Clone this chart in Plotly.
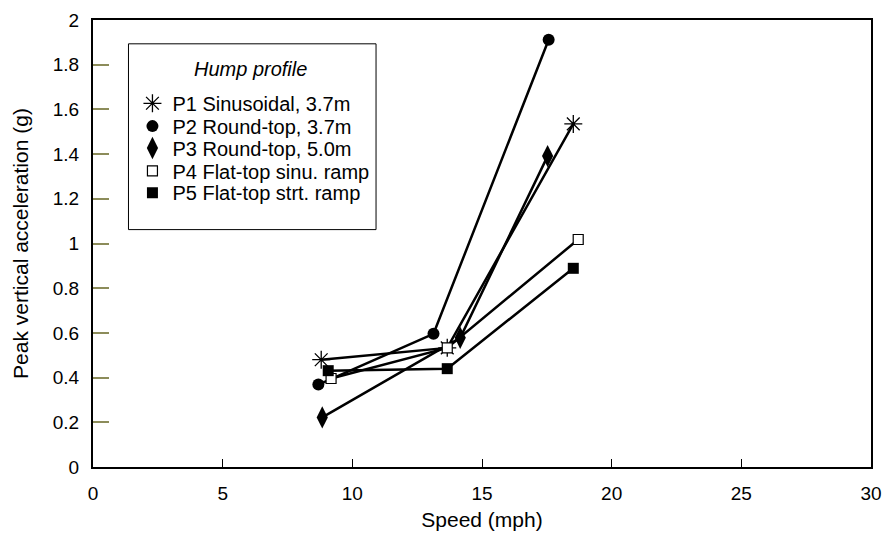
import plotly.graph_objects as go

# Data
series_names = [
    "P1 Sinusoidal, 3.7m",
    "P2 Round-top, 3.7m",
    "P3 Round-top, 5.0m",
    "P4 Flat-top sinu. ramp",
    "P5 Flat-top strt. ramp",
]
p1_speed = [8.8, 13.66, 18.52]
p1_accel = [0.48, 0.533, 1.535]
p2_speed = [8.69, 13.13, 17.57]
p2_accel = [0.369, 0.596, 1.912]
p3_speed = [8.84, 14.16, 17.53]
p3_accel = [0.222, 0.578, 1.391]
p4_speed = [9.18, 13.66, 18.71]
p4_accel = [0.396, 0.533, 1.018]
p5_speed = [9.07, 13.66, 18.52]
p5_accel = [0.431, 0.44, 0.889]

x_ticks = [0, 5, 10, 15, 20, 25, 30]
y_ticks = [0, 0.2, 0.4, 0.6, 0.8, 1, 1.2, 1.4, 1.6, 1.8, 2]
y_tick_text = ["0", "0.2", "0.4", "0.6", "0.8", "1", "1.2", "1.4", "1.6", "1.8", "2"]
legend_title = "Hump profile"

FONT = "Liberation Sans, Arial, sans-serif"

markers = [
    dict(symbol="asterisk-open", size=15, color="black", line=dict(color="black", width=1.3)),
    dict(symbol="circle", size=12, color="black", line=dict(color="black", width=0)),
    dict(symbol="diamond-tall", size=16, color="black", line=dict(color="black", width=0)),
    dict(symbol="square", size=10, color="white", line=dict(color="black", width=1.2)),
    dict(symbol="square", size=11, color="black", line=dict(color="black", width=0)),
]
data = [
    (p1_speed, p1_accel),
    (p2_speed, p2_accel),
    (p3_speed, p3_accel),
    (p4_speed, p4_accel),
    (p5_speed, p5_accel),
]

fig = go.Figure()
for name, (xs, ys), mk in zip(series_names, data, markers):
    fig.add_trace(go.Scatter(
        x=xs, y=ys, mode="lines+markers", name=name,
        line=dict(color="black", width=2.5),
        marker=mk, showlegend=False, cliponaxis=False,
    ))

# legend: one single-entry legend per row so the row spacing matches the reference
legend_ids = ["legend", "legend2", "legend3", "legend4", "legend5"]
row_y = [0.8137, 0.7626, 0.7137, 0.6626, 0.6137]
for name, mk, lid in zip(series_names, markers, legend_ids):
    fig.add_trace(go.Scatter(
        x=[None], y=[None], mode="markers", name=name,
        marker=mk, showlegend=True, legend=lid,
    ))

legend_common = dict(
    x=0.0507, xanchor="left", yanchor="middle",
    bgcolor="rgba(0,0,0,0)", borderwidth=0,
    font=dict(family=FONT, size=20, color="black"),
    itemwidth=30,
)
layout_legends = {lid: dict(legend_common, y=yy) for lid, yy in zip(legend_ids, row_y)}

fig.update_layout(
    width=892, height=541,
    margin=dict(l=93, r=10, t=17, b=74),
    paper_bgcolor="white", plot_bgcolor="white",
    font=dict(family=FONT, size=18, color="black"),
    **layout_legends,
    shapes=[dict(
        type="rect", xref="paper", yref="paper",
        x0=0.0456, x1=0.3638, y0=0.5311, y1=0.9467,
        line=dict(color="black", width=1), fillcolor="white", layer="above",
    )],
    annotations=[dict(
        text="<i>" + legend_title + "</i>", xref="paper", yref="paper",
        x=0.203, y=0.89, xanchor="center", yanchor="middle", showarrow=False,
        font=dict(family=FONT, size=20, color="black"),
    )],
    xaxis=dict(
        range=[0, 30], tickvals=x_ticks, ticktext=[str(v) for v in x_ticks],
        showgrid=False, zeroline=False,
        showline=True, linecolor="black", linewidth=2, mirror=True,
        ticks="inside", ticklen=8, tickwidth=1, tickcolor="black",
        ticklabelstandoff=8, ticklabeloverflow="allow",
        tickfont=dict(family=FONT, size=19, color="black"),
        title=dict(text="Speed (mph)", font=dict(family=FONT, size=21, color="black"), standoff=10),
    ),
    yaxis=dict(
        range=[0, 2], tickvals=y_ticks, ticktext=y_tick_text,
        showgrid=False, zeroline=False,
        showline=True, linecolor="black", linewidth=2, mirror=True,
        ticks="inside", ticklen=16, tickwidth=1.5, tickcolor="#8c8c5a",
        ticklabelstandoff=8,
        tickfont=dict(family=FONT, size=19, color="black"),
        title=dict(text="Peak vertical acceleration (g)", font=dict(family=FONT, size=21, color="black"), standoff=18),
    ),
)

fig.write_html("out.html")
